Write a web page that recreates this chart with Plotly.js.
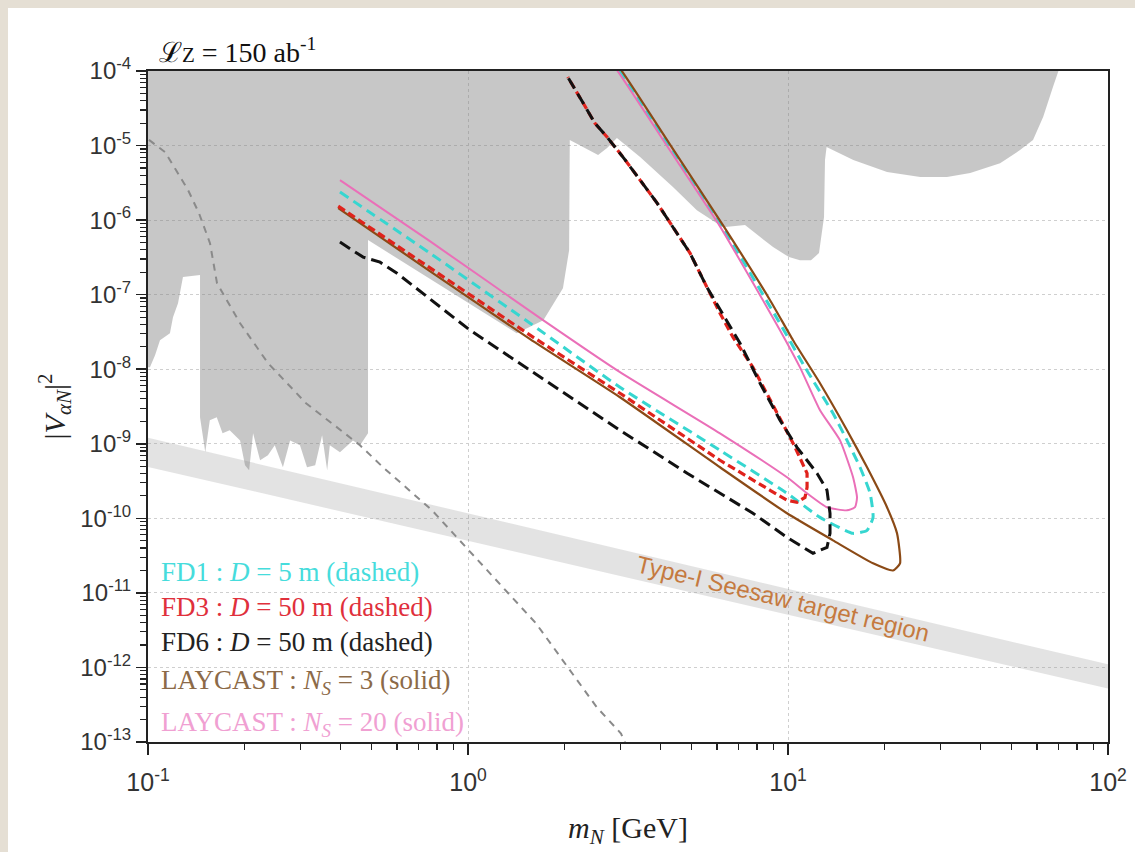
<!DOCTYPE html>
<html>
<head>
<meta charset="utf-8">
<script src="https://cdn.plot.ly/plotly-3.0.1.min.js"></script>
<style>
  html, body { margin: 0; padding: 0; background: #e5dfd4; width: 1135px; height: 852px; overflow: hidden; }
  #chart { position: absolute; left: 8px; top: 8px; width: 1127px; height: 844px; background: #ffffff; }
</style>
</head>
<body>
<div id="chart"></div>
<script>
// ---------------- data (m_N in GeV, |V|^2) ----------------
// existing exclusion region (grey)
const mN_excl = [0.1, 70, 67.3, 62.7, 58.3, 53.1, 46.0, 37.1, 31.4, 25.9, 20.4, 16.0, 13.2, 13.05, 12.96, 12.5, 11.8, 10.9, 10.07, 8.98, 7.34, 6.26, 5.19, 4.37, 3.45, 2.92, 2.72, 2.55, 2.08, 2.07, 1.98, 1.72, 1.42, 0.487, 0.487, 0.46, 0.437, 0.398, 0.370, 0.363, 0.35, 0.333, 0.314, 0.2985, 0.278, 0.264, 0.249, 0.237, 0.224, 0.213, 0.207, 0.201, 0.194, 0.180, 0.171, 0.164, 0.156, 0.151, 0.1454, 0.1454, 0.1286, 0.1241, 0.1197, 0.1171, 0.109, 0.1052, 0.1014, 0.1];
const V_excl = [1e-4, 1e-4, 6.1e-5, 2.41e-5, 1.19e-5, 8.7e-6, 5.8e-6, 4.28e-6, 3.78e-6, 3.78e-6, 4.41e-6, 6.38e-6, 9.55e-6, 6.38e-6, 1.10e-6, 3.61e-7, 2.90e-7, 2.90e-7, 3.19e-7, 4.35e-7, 8.57e-7, 8.05e-7, 1.36e-6, 2.77e-6, 7.0e-6, 1.26e-5, 9.25e-6, 7.45e-6, 1.19e-5, 3.95e-7, 1.22e-7, 4.55e-8, 3.04e-8, 5.40e-7, 1.38e-9, 9.55e-10, 1.11e-9, 7.69e-10, 9.55e-10, 4.41e-10, 1.30e-9, 5.14e-10, 4.84e-10, 9.55e-10, 1.11e-9, 4.84e-10, 9.55e-10, 7.02e-10, 6.01e-10, 1.38e-9, 4.41e-10, 5.14e-10, 1.11e-9, 1.52e-9, 1.38e-9, 2.27e-9, 2.07e-9, 7.69e-10, 2.27e-9, 1.83e-7, 1.72e-7, 7.69e-8, 4.99e-8, 3.04e-8, 2.45e-8, 1.54e-8, 1.06e-8, 1.06e-8];

// Type-I seesaw target band
const mN_band = [0.1, 100, 100, 0.1];
const V_band = [1.2e-9, 1.1e-12, 5.2e-13, 4.9e-10];

// grey dashed curve
const mN_bbn = [0.1007, 0.1130, 0.1223, 0.1334, 0.1443, 0.1562, 0.1643, 0.194, 0.237, 0.3118, 0.4597, 0.5427, 0.772, 1.172, 1.631, 2.530, 3.007, 3.095];
const V_bbn = [1.19e-5, 8.18e-6, 4.69e-6, 2.53e-6, 1.24e-6, 4.91e-7, 1.43e-7, 4.14e-8, 1.21e-8, 3.50e-9, 9.55e-10, 4.84e-10, 1.28e-10, 1.83e-11, 3.90e-12, 2.90e-13, 1.30e-13, 9.8e-14];

// LAYCAST N_S = 20 (solid pink)
const mN_L20 = [0.398, 0.760, 1.716, 2.985, 6.13, 9.93, 11.47, 13.24, 15.29, 16.20, 16.43, 15.97, 14.54, 12.59, 10.90, 9.44, 8.35, 6.15, 4.13, 2.92, 2.585];
const V_L20 = [3.44e-6, 5.22e-7, 4.55e-8, 9.12e-9, 1.38e-9, 3.55e-10, 2.17e-10, 1.41e-10, 1.28e-10, 1.41e-10, 1.91e-10, 3.55e-10, 1.11e-9, 2.82e-9, 1.06e-8, 3.34e-8, 8.43e-8, 8.05e-7, 1.08e-5, 1.03e-4, 2.0e-4];

// LAYCAST N_S = 3 (solid brown)
const mN_L3 = [0.393, 0.760, 1.563, 2.985, 6.13, 9.93, 13.82, 18.44, 21.29, 22.39, 21.91, 20.39, 17.66, 15.29, 12.59, 10.37, 8.79, 6.32, 4.25, 3.01, 2.66];
const V_L3 = [1.45e-6, 2.07e-7, 2.53e-8, 4.21e-9, 4.84e-10, 1.17e-10, 5.07e-11, 2.49e-11, 2.0e-11, 2.49e-11, 6.29e-11, 1.41e-10, 4.84e-10, 1.52e-9, 6.49e-9, 2.45e-8, 8.43e-8, 8.05e-7, 1.08e-5, 1.03e-4, 2.0e-4];

// FD1 : D = 5 m (dashed cyan)
const mN_FD1 = [0.398, 0.760, 1.563, 2.985, 6.13, 9.93, 12.59, 15.97, 17.66, 18.44, 18.05, 16.79, 15.29, 13.82, 11.30, 9.31, 6.24, 4.19, 2.96, 2.55];
const V_FD1 = [2.38e-6, 3.61e-7, 4.14e-8, 5.73e-9, 8.18e-10, 2.17e-10, 1.03e-10, 6.29e-11, 6.90e-11, 1.03e-10, 2.17e-10, 4.84e-10, 1.11e-9, 2.57e-9, 1.06e-8, 4.55e-8, 8.05e-7, 1.08e-5, 1.03e-4, 2.0e-4];

// FD3 : D = 50 m (dashed red)
const mN_FD3 = [0.393, 0.760, 1.563, 2.985, 6.13, 8.79, 9.93, 10.67, 11.30, 11.47, 11.47, 10.37, 9.24, 7.77, 6.73, 6.13, 5.58, 4.94, 4.37, 3.90, 3.45, 3.05, 2.72, 2.49, 2.29, 2.05];
const V_FD3 = [1.54e-6, 2.27e-7, 2.86e-8, 4.76e-9, 6.01e-10, 2.38e-10, 1.75e-10, 1.64e-10, 1.91e-10, 2.61e-10, 4.02e-10, 1.02e-9, 2.57e-9, 1.06e-8, 2.69e-8, 5.65e-8, 1.26e-7, 3.61e-7, 8.05e-7, 1.69e-6, 3.44e-6, 7.01e-6, 1.30e-5, 2.0e-5, 3.72e-5, 8.3e-5];

// FD6 : D = 50 m (dashed black)
const mN_FD6 = [0.398, 0.470, 0.531, 0.600, 1.014, 1.804, 2.985, 4.84, 7.77, 9.93, 11.97, 13.24, 13.53, 13.53, 13.24, 12.32, 11.47, 10.67, 9.44, 8.18, 7.08, 6.13, 5.58, 4.94, 4.37, 3.90, 3.45, 3.05, 2.72, 2.49, 2.29, 2.05];
const V_FD6 = [5.07e-7, 3.19e-7, 2.73e-7, 1.94e-7, 3.34e-8, 6.49e-9, 1.52e-9, 4.02e-10, 1.17e-10, 5.56e-11, 3.39e-11, 4.08e-11, 6.29e-11, 1.17e-10, 2.38e-10, 4.02e-10, 6.01e-10, 8.97e-10, 2.07e-9, 6.49e-9, 2.23e-8, 6.19e-8, 1.26e-7, 3.61e-7, 8.05e-7, 1.69e-6, 3.44e-6, 7.01e-6, 1.30e-5, 2.0e-5, 3.72e-5, 8.3e-5];

// tick labels
const xTickVals = [0.1, 1, 10, 100];
const xTickText = ['10<sup>-1</sup>', '10<sup>0</sup>', '10<sup>1</sup>', '10<sup>2</sup>'];
const yTickExp = [-13, -12, -11, -10, -9, -8, -7, -6, -5, -4];

// ---------------- build ----------------
const yTickVals = yTickExp.map(e => Math.pow(10, e));
const yTickText = yTickExp.map(e => '10<sup>' + e + '</sup>');
function minorTicks(e0, e1) {
  const out = [];
  for (let e = e0; e < e1; e++) for (let k = 2; k <= 9; k++) out.push(k * Math.pow(10, e));
  return out;
}

const SERIF = 'Liberation Serif, Times New Roman, serif';
const SANS = 'Liberation Sans, Arial, sans-serif';

const traces = [
  { x: mN_band, y: V_band, type: 'scatter', mode: 'lines', fill: 'toself',
    fillcolor: 'rgba(150,150,150,0.27)', line: { width: 0 }, hoverinfo: 'skip' },
  { x: mN_excl, y: V_excl, type: 'scatter', mode: 'lines', fill: 'toself',
    fillcolor: 'rgba(128,128,128,0.44)', line: { width: 0 }, hoverinfo: 'skip' },
  { x: mN_bbn, y: V_bbn, type: 'scatter', mode: 'lines',
    line: { color: '#8a8a8a', width: 2, dash: '7px,6px' } },
  { x: mN_FD1, y: V_FD1, type: 'scatter', mode: 'lines',
    line: { color: '#36d6d0', width: 3, dash: '10px,6px', shape: 'spline', smoothing: 0.5 } },
  { x: mN_L3, y: V_L3, type: 'scatter', mode: 'lines',
    line: { color: '#8b4a16', width: 2.2, shape: 'spline', smoothing: 0.5 } },
  { x: mN_L20, y: V_L20, type: 'scatter', mode: 'lines',
    line: { color: '#ea6fb8', width: 2, shape: 'spline', smoothing: 0.5 } },
  { x: mN_FD3, y: V_FD3, type: 'scatter', mode: 'lines',
    line: { color: '#e0221c', width: 3.2, dash: '8px,4px' } },
  { x: mN_FD6, y: V_FD6, type: 'scatter', mode: 'lines',
    line: { color: '#111111', width: 3, dash: '12px,6px' } }
];

function legendNote(text, color, y) {
  return { xref: 'paper', yref: 'paper', x: 0.0115, y: y, xanchor: 'left', yanchor: 'middle',
    text: text, showarrow: false, font: { family: SERIF, size: 27, color: color } };
}

const layout = {
  width: 1127, height: 844,
  margin: { l: 140, r: 27, t: 63, b: 110 },
  paper_bgcolor: '#ffffff', plot_bgcolor: '#ffffff',
  showlegend: false,
  xaxis: {
    type: 'log', range: [-1, 2],
    tickmode: 'array', tickvals: xTickVals, ticktext: xTickText,
    ticks: 'outside', ticklen: 11, tickwidth: 1.5, tickcolor: '#222',
    ticklabelstandoff: 6,
    showline: true, linecolor: '#222', linewidth: 2, mirror: true,
    showgrid: true, gridcolor: '#cfcfcf', griddash: '3px,3px', gridwidth: 1,
    zeroline: false,
    tickfont: { family: SANS, size: 25, color: '#333' },
    minor: { tickmode: 'array', tickvals: minorTicks(-1, 2), ticks: 'outside', ticklen: 6,
             tickwidth: 1.3, tickcolor: '#222', showgrid: false },
    title: { text: '<i>m</i><sub><i>N</i></sub> [GeV]', font: { family: SERIF, size: 30, color: '#222' }, standoff: 22 }
  },
  yaxis: {
    type: 'log', range: [-13, -4],
    tickmode: 'array', tickvals: yTickVals, ticktext: yTickText,
    ticks: 'outside', ticklen: 10, tickwidth: 1.5, tickcolor: '#222',
    showline: true, linecolor: '#222', linewidth: 2, mirror: true,
    showgrid: true, gridcolor: '#cfcfcf', griddash: '3px,3px', gridwidth: 1,
    zeroline: false,
    tickfont: { family: SANS, size: 24, color: '#333' },
    minor: { tickmode: 'array', tickvals: minorTicks(-13, -4), ticks: 'outside', ticklen: 6,
             tickwidth: 1.2, tickcolor: '#222', showgrid: false },
    title: { text: '|<i>V</i><sub><i>αN</i></sub>|<sup>2</sup>', font: { family: SERIF, size: 30, color: '#222' }, standoff: 6 }
  },
  annotations: [
    { xref: 'paper', yref: 'paper', x: 0.0094, y: 1.031, xanchor: 'left', yanchor: 'middle',
      text: 'ℒ<span style="font-size:21px">Z</span> = 150 ab<sup>-1</sup>', showarrow: false,
      font: { family: SERIF, size: 28, color: '#111' } },
    legendNote('FD1 : <i>D</i> = 5 m (dashed)', '#46dcdc', 0.2534),
    legendNote('FD3 : <i>D</i> = 50 m (dashed)', '#e0303c', 0.2012),
    legendNote('FD6 : <i>D</i> = 50 m (dashed)', '#222222', 0.149),
    legendNote('LAYCAST : <i>N</i><sub><i>S</i></sub> = 3 (solid)', '#8c6a48', 0.0900),
    legendNote('LAYCAST : <i>N</i><sub><i>S</i></sub> = 20 (solid)', '#f0a0d2', 0.0270),
    { xref: 'paper', yref: 'paper', x: 0.6615, y: 0.2146, xanchor: 'center', yanchor: 'middle',
      text: 'Type-I Seesaw target region', showarrow: false, textangle: 13.5,
      font: { family: SANS, size: 24, color: '#c57a40' } }
  ]
};

Plotly.newPlot('chart', traces, layout, { displayModeBar: false, staticPlot: true });
</script>
</body>
</html>
